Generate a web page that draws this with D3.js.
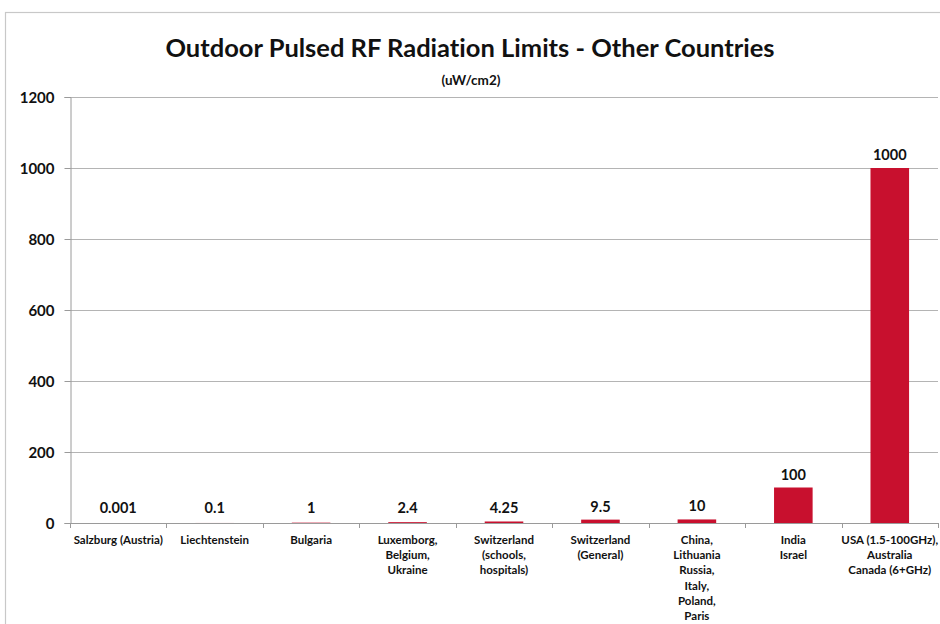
<!DOCTYPE html>
<html><head><meta charset="utf-8">
<script src="https://cdn.jsdelivr.net/npm/d3@7"></script>
<style>body{margin:0;background:#fff}svg{display:block}text{font-family:Lato,"Open Sans",sans-serif;font-weight:bold;fill:#111;font-variant-ligatures:none;font-feature-settings:"liga" 0,"dlig" 0}</style>
</head><body><svg id="c" width="940" height="624"></svg>
<script>
const categories = [
  ["Salzburg (Austria)"],
  ["Liechtenstein"],
  ["Bulgaria"],
  ["Luxemborg,","Belgium,","Ukraine"],
  ["Switzerland","(schools,","hospitals)"],
  ["Switzerland","(General)"],
  ["China,","Lithuania","Russia,","Italy,","Poland,","Paris"],
  ["India","Israel"],
  ["USA (1.5-100GHz),","Australia","Canada (6+GHz)"]
];
const values = [0.001, 0.1, 1, 2.4, 4.25, 9.5, 10, 100, 1000];
const valueLabels = ["0.001","0.1","1","2.4","4.25","9.5","10","100","1000"];
const yTicks = [0, 200, 400, 600, 800, 1000, 1200];
const title = "Outdoor Pulsed RF Radiation Limits - Other Countries";
const subtitle = "(uW/cm2)";

const svg = d3.select("#c");
const L = 70, R = 938, T = 97, B = 523;

// chart border
svg.append("rect").attr("x",5.5).attr("y",12.5).attr("width",960).attr("height",700)
  .attr("fill","#fff").attr("stroke","#c8c8c8").attr("stroke-width",1.2);

const x = d3.scaleBand().domain(d3.range(categories.length)).range([L, R]).paddingInner(0.6).paddingOuter(0.3);
const xb = d3.scaleBand().domain(d3.range(categories.length)).range([L, R]);
const y = d3.scaleLinear().domain([0, 1200]).range([B, T]);

// gridlines
svg.append("g").selectAll("line").data(yTicks.filter(d=>d>0)).join("line")
  .attr("x1", L).attr("x2", R).attr("y1", d=>Math.round(y(d))+0.5).attr("y2", d=>Math.round(y(d))+0.5)
  .attr("stroke","#b4b4b4").attr("stroke-width",1.2);

// y axis
const ya = svg.append("g").attr("transform",`translate(${L+0.5},0)`)
  .call(d3.axisLeft(y).tickValues(yTicks).tickSize(6).tickPadding(10).tickFormat(d3.format("d")));
ya.select(".domain").attr("stroke","#9a9a9a");
ya.selectAll(".tick line").attr("stroke","#9a9a9a");
ya.selectAll(".tick text").style("font-size","15px").style("font-family","Lato,sans-serif").style("font-weight","bold").attr("fill","#111").attr("dy","0.35em");

// bars
svg.append("g").selectAll("rect").data(values).join("rect")
  .attr("x",(d,i)=>x(i)).attr("width",x.bandwidth())
  .attr("y",d=>y(d)).attr("height",d=>B-y(d))
  .attr("fill","#c8102e");

// x axis
svg.append("line").attr("x1",L).attr("x2",R).attr("y1",B+0.5).attr("y2",B+0.5).attr("stroke","#9a9a9a").attr("stroke-width",1.2);
svg.append("g").selectAll("line").data(d3.range(categories.length+1)).join("line")
  .attr("x1",i=>Math.round(i<categories.length?xb(i):R)+0.5).attr("x2",i=>Math.round(i<categories.length?xb(i):R)+0.5)
  .attr("y1",B).attr("y2",B+5).attr("stroke","#9a9a9a");

// value labels
svg.append("g").selectAll("text").data(values).join("text")
  .attr("x",(d,i)=>xb(i)+xb.bandwidth()/2).attr("y",d=>Math.min(y(d),B-2)-8)
  .attr("text-anchor","middle").style("font-size","14.5px")
  .text((d,i)=>valueLabels[i]);

// category labels
const cl = svg.append("g").selectAll("text").data(categories).join("text")
  .attr("x",(d,i)=>xb(i)+xb.bandwidth()/2).attr("y",544)
  .attr("text-anchor","middle").style("font-size","11.5px");
cl.selectAll("tspan").data(d=>d).join("tspan")
  .attr("x",function(){return d3.select(this.parentNode).attr("x");})
  .attr("dy",(d,j)=>j===0?0:15.2).text(d=>d);

// titles
svg.append("text").attr("x",470).attr("y",57).attr("text-anchor","middle").style("font-size","25.5px").text(title);
svg.append("text").attr("x",471).attr("y",85).attr("text-anchor","middle").style("font-size","13.5px").text(subtitle);
</script></body></html>
